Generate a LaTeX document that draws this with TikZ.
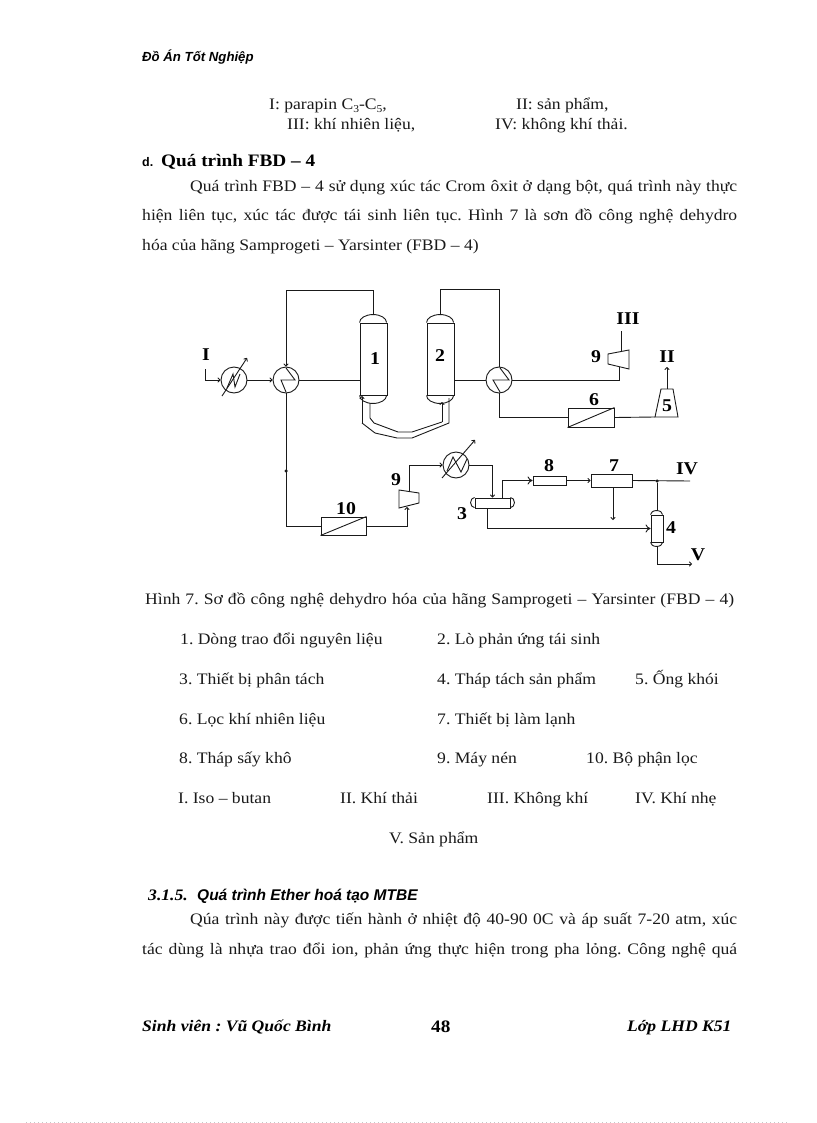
\documentclass[tikz,border=0pt]{standalone}
\usepackage{fontspec}
\setmainfont[FakeStretch=1.1]{Liberation Serif}
\setsansfont{Liberation Sans}
\usetikzlibrary{arrows.meta,positioning,calc}
\definecolor{dark}{HTML}{1A1A1A}
\frenchspacing
\newcommand{\subnum}[1]{\raisebox{-2.5pt}{\fontsize{10.5}{10}\selectfont #1}}
\newcommand{\fitline}[2]{\makebox[#1pt][s]{#2}}
\tikzset{
  txt/.style={anchor=base west, inner sep=0pt, text=dark, font=\fontsize{16}{18}\selectfont},
  lab/.style={inner sep=0pt, text=black, font=\bfseries\fontsize{18}{18}\selectfont},
  foot/.style={anchor=base west, inner sep=0pt, text=black, font=\bfseries\itshape\fontsize{16}{18}\selectfont},
  pipe/.style={draw=dark, line width=0.9pt},
  arrow/.style={pipe, -{To[length=3pt,width=5pt]}},
  openarrow/.style={pipe, -{To[length=5pt,width=8pt]}},
  vessel/.style={pipe, rectangle, inner sep=0pt},
  exchanger/.style={pipe, circle, inner sep=0pt, minimum size=26pt},
  boxunit/.style={pipe, rectangle, inner sep=0pt},
  joint/.style={circle, fill=dark, inner sep=0pt, minimum size=3.5pt}
}
\begin{document}
\begin{tikzpicture}[x=1pt, y=-1pt]
  \useasboundingbox (0,0) rectangle (816,1123);
  \fill[white] (0,0) rectangle (816,1123);

  % page text
  \node[foot, font=\sffamily\bfseries\itshape\fontsize{13.2}{14}\selectfont] (header) at (142,62) {Đồ Án Tốt Nghiệp};
  \node[txt] (legendone) at (269,110) {I: parapin C\subnum{3}-C\subnum{5},};
  \node[txt] (legendtwo) at (516,110) {II: sản phẩm,};
  \node[txt] (legendthree) at (287,130) {III: khí nhiên liệu,};
  \node[txt] (legendfour) at (495,130) {IV: không khí thải.};
  \node[foot, font=\sffamily\bfseries\fontsize{12.5}{14}\selectfont] (secd) at (142,167) {d.};
  \node[foot, font=\bfseries\fontsize{17.5}{18}\selectfont] (sectitle) at (161,167) {Quá trình FBD – 4};
  \node[txt] (bodyone) at (190,192) {\fitline{547}{Quá trình FBD – 4 sử dụng xúc tác Crom ôxit ở dạng bột, quá trình này thực}};
  \node[txt] (bodytwo) at (142,221) {\fitline{595}{hiện liên tục, xúc tác được tái sinh liên tục. Hình 7 là sơn đồ công nghệ dehydro}};
  \node[txt] (bodythree) at (142,251) {hóa của hãng Samprogeti – Yarsinter (FBD – 4)};

  % reactors
  \node[vessel, minimum width=27pt, minimum height=72pt] (reactone) at (373.5,359) {};
  \node[vessel, minimum width=27pt, minimum height=72pt] (reacttwo) at (440.5,359) {};
  \draw[pipe] (reactone.north west) arc[start angle=180, end angle=360, x radius=13.5, y radius=8];
  \draw[pipe] (reactone.south west) arc[start angle=180, end angle=0, x radius=13.5, y radius=8];
  \draw[pipe] (reacttwo.north west) arc[start angle=180, end angle=360, x radius=13.5, y radius=8];
  \draw[pipe] (reacttwo.south west) arc[start angle=180, end angle=0, x radius=13.5, y radius=8];
  \node[lab] (labone) at (375,359) {1};
  \node[lab] (labtwo) at (440,356) {2};
  \coordinate (topone) at (373.5,315);
  \coordinate (toptwo) at (440,315);

  % first heater and exchangers
  \coordinate (feed) at (205,369);
  \node[lab] (labI) at (206,355) {I};
  \node[exchanger] (heatone) at (234,380) {};
  \node[exchanger] (exchone) at (286,380) {};
  \node[exchanger] (exchtwo) at (499,380) {};
  \draw[pipe] ($(heatone)+(-7,8)$) -- ($(heatone)+(-1,-6)$) -- ($(heatone)+(1,7)$) -- ($(heatone)+(6,-6)$);
  \draw[arrow] ($(heatone)+(-12,16)$) -- ($(heatone)+(13,-22)$);
  \draw[pipe] ($(exchone)+(0,-12)$) -- ($(exchone)+(9,0)$) -- ($(exchone)+(-5,0)$) -- ($(exchone)+(0,12)$);
  \draw[pipe] ($(exchtwo)+(1,-12)$) -- ($(exchtwo)+(10,0)$) -- ($(exchtwo)+(-6,0)$) -- ($(exchtwo)+(1,12)$);
  \draw[arrow] (feed) |- (heatone.west);
  \draw[arrow] (heatone.east) -- (exchone.west);
  \draw[pipe] (exchone.east) -- (exchone.east -| reactone.west);
  \draw[arrow] (topone) |- (286,290) -- (exchone.north);
  \draw[pipe] (toptwo) |- (499,289) -- (exchtwo.north);
  \draw[pipe] (exchtwo.west -| reacttwo.east) -- (exchtwo.west);

  % u-tube between reactors
  \coordinate (utubeA) at (362,396);
  \coordinate (utubeB) at (370,403);
  \coordinate (utubeC) at (442,402);
  \coordinate (utubeD) at (449,398);
  \draw[arrow] (362,423) -- (utubeA);
  \draw[pipe] (362,423) -- (375,433) -- (397,438) -- (412,438) -- (449,423) -- (utubeD);
  \draw[pipe] (utubeB) -- (370,418) -- (374,423) -- (398,432) -- (412,432) -- (442,422);
  \draw[arrow] (442,422) -- (utubeC);

  % right branch
  \draw[pipe] (608,354) -- (629,350) -- (629,369) -- (608,364) -- cycle;
  \coordinate (compupin) at (619,367);
  \coordinate (compupout) at (621,352);
  \coordinate (gasout) at (621,331);
  \node[lab] (labnineup) at (596,357) {9};
  \node[lab] (labIII) at (628,319) {III};
  \draw[pipe] (exchtwo.east) -| (compupin);
  \draw[pipe] (compupout) -- (gasout);
  \node[boxunit, minimum width=46pt, minimum height=19pt] (filtersix) at (591,417.5) {};
  \draw[pipe] (filtersix.south west) -- (filtersix.north east);
  \node[lab] (labsix) at (594,400) {6};
  \draw[pipe] (exchtwo.south) |- (filtersix.west);
  \draw[pipe] (655,417) -- (678,417) -- (673,389) -- (661,389) -- cycle;
  \coordinate (stackin) at (655,417);
  \coordinate (stacktop) at (667,389);
  \coordinate (stackout) at (667,367);
  \node[lab] (labfive) at (667,406) {5};
  \node[lab] (labII) at (667,357) {II};
  \draw[pipe] (filtersix.east) -- (stackin);
  \draw[arrow] (stacktop) -- (stackout);

  % lower branch
  \node[boxunit, minimum width=45pt, minimum height=18pt] (filterten) at (343.5,526) {};
  \draw[pipe] (filterten.south west) -- (filterten.north east);
  \node[lab] (labten) at (346,509) {10};
  \draw[pipe] (exchone.south) |- (filterten.west);
  \node[joint] (jointleft) at (286,471) {};
  \draw[pipe] (399,490) -- (419,493) -- (419,503) -- (399,508) -- cycle;
  \coordinate (compdownin) at (407,507);
  \coordinate (compdownout) at (409,492);
  \node[lab] (labninedown) at (396,480) {9};
  \draw[arrow] (filterten.east) -| (compdownin);
  \node[exchanger] (heattwo) at (456,465) {};
  \draw[pipe] ($(heattwo)+(-9,6)$) -- ($(heattwo)+(-3,-8)$) -- ($(heattwo)+(5,7)$) -- ($(heattwo)+(11,-6)$);
  \draw[arrow] ($(heattwo)+(-14,13)$) -- ($(heattwo)+(19,-25)$);
  \draw[arrow] (compdownout) |- (heattwo.west);

  % separator drum
  \node[vessel, minimum width=35pt, minimum height=10pt] (drum) at (492.5,503) {};
  \draw[pipe] (drum.north west) arc[start angle=270, end angle=90, x radius=4, y radius=5];
  \draw[pipe] (drum.north east) arc[start angle=-90, end angle=90, x radius=4, y radius=5];
  \node[lab] (labthree) at (462,514) {3};
  \draw[arrow] (heattwo.east) -| (drum.north);
  \node[boxunit, minimum width=33pt, minimum height=9pt] (dryer) at (549.5,480.5) {};
  \node[lab] (labeight) at (549,466) {8};
  \coordinate (drumtop) at (502,498);
  \coordinate (drumbottom) at (487,508);
  \draw[openarrow] (drumtop) |- (dryer.west);
  \node[boxunit, minimum width=41pt, minimum height=13pt] (cooler) at (611.5,480.5) {};
  \node[lab] (labseven) at (614,466) {7};
  \draw[arrow] (dryer.east) -- (cooler.west);
  \coordinate (lightout) at (690,481);
  \node[lab] (labIV) at (687,469) {IV};
  \draw[pipe] (cooler.east) -- (lightout);
  \node[joint] (jointright) at (657,481) {};

  % product tower
  \node[vessel, minimum width=12pt, minimum height=27pt] (tower) at (657,528.5) {};
  \draw[pipe] (tower.north west) arc[start angle=180, end angle=360, x radius=6, y radius=4];
  \draw[pipe] (tower.south west) arc[start angle=180, end angle=0, x radius=6, y radius=4];
  \node[lab] (labfour) at (671,528) {4};
  \coordinate (towertop) at (657,511);
  \coordinate (towerbottom) at (657,546);
  \coordinate (productout) at (692,564);
  \coordinate (coolerdrop) at (613,520);
  \node[lab] (labV) at (698,555) {V};
  \draw[pipe] (jointright) -- (towertop);
  \draw[openarrow] (drumbottom) |- (tower.west);
  \draw[arrow] (cooler.south -| coolerdrop) -- (coolerdrop);
  \draw[arrow] (towerbottom) |- (productout);

  % caption and list
  \node[txt] (caption) at (145,604) {\fitline{589}{Hình 7. Sơ đồ công nghệ dehydro hóa của hãng Samprogeti – Yarsinter (FBD – 4)}};
  \node[txt] (itemone) at (180,644) {1. Dòng trao đổi nguyên liệu};
  \node[txt] (itemtwo) at (437,644) {2. Lò phản ứng tái sinh};
  \node[txt] (itemthree) at (179,684) {3. Thiết bị phân tách};
  \node[txt] (itemfour) at (437,684) {4. Tháp tách sản phẩm};
  \node[txt] (itemfive) at (635,684) {5. Ống khói};
  \node[txt] (itemsix) at (179,724) {6. Lọc khí nhiên liệu};
  \node[txt] (itemseven) at (437,724) {7. Thiết bị làm lạnh};
  \node[txt] (itemeight) at (179,763) {8. Tháp sấy khô};
  \node[txt] (itemnine) at (437,763) {9. Máy nén};
  \node[txt] (itemten) at (586,763) {10. Bộ phận lọc};
  \node[txt] (streamI) at (178,803) {I. Iso – butan};
  \node[txt] (streamII) at (340,803) {II. Khí thải};
  \node[txt] (streamIII) at (487,803) {III. Không khí};
  \node[txt] (streamIV) at (635,803) {IV. Khí nhẹ};
  \node[txt] (streamV) at (389,843) {V. Sản phẩm};

  % next section and footer
  \node[foot, font=\bfseries\itshape\fontsize{16}{18}\selectfont] (nexnum) at (148,900) {3.1.5.};
  \node[foot, font=\sffamily\bfseries\itshape\fontsize{15.5}{18}\selectfont] (nextitle) at (197,900) {Quá trình Ether hoá tạo MTBE};
  \node[txt] (nextone) at (190,924) {\fitline{547}{Qúa trình này được tiến hành ở nhiệt độ 40-90 0C và áp suất 7-20 atm, xúc}};
  \node[txt] (nexttwo) at (142,954) {\fitline{595}{tác dùng là nhựa trao đổi ion, phản ứng thực hiện trong pha lỏng. Công nghệ quá}};
  \node[foot] (student) at (142,1031) {Sinh viên : Vũ Quốc Bình};
  \node[foot, font=\bfseries\fontsize{17.5}{18}\selectfont] (pagenum) at (431,1032) {48};
  \node[foot] (classname) at (627,1031) {Lớp LHD K51};
  \draw[gray!45, line width=1pt, dash pattern=on 1pt off 3pt] (26,1122) -- (790,1122);
\end{tikzpicture}
\end{document}
